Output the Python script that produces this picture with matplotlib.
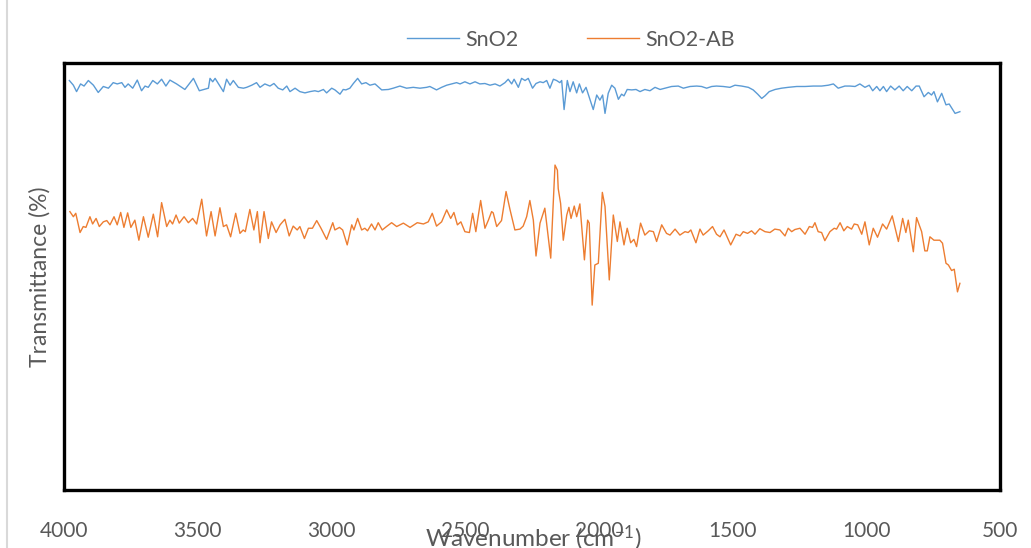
import matplotlib.pyplot as plt
from matplotlib.lines import Line2D

plt.rcParams['font.family'] = ['Lato', 'DejaVu Sans']
plt.rcParams['mathtext.default'] = 'regular'

# SnO2 spectrum (wavenumber, transmittance in arbitrary % units)
sno2_wn = [3980, 3965, 3953, 3938, 3925, 3909, 3890, 3872, 3853, 3834, 3816, 3801, 3784, 3772,
           3760, 3743, 3726, 3710, 3697, 3685, 3668, 3651, 3635, 3619, 3604, 3579, 3548, 3516,
           3494, 3477, 3460, 3454, 3444, 3435, 3419, 3404, 3392, 3379, 3367, 3348, 3329, 3317,
           3298, 3280, 3267, 3249, 3230, 3215, 3199, 3182, 3167, 3155, 3136, 3118, 3099, 3080,
           3062, 3049, 3030, 3018, 2999, 2987, 2968, 2956, 2946, 2931, 2918, 2902, 2887, 2871,
           2856, 2837, 2812, 2787, 2769, 2744, 2719, 2694, 2669, 2644, 2632, 2607, 2588, 2569,
           2550, 2532, 2519, 2501, 2482, 2463, 2445, 2426, 2407, 2388, 2370, 2351, 2339, 2326,
           2317, 2301, 2289, 2276, 2264, 2248, 2235, 2220, 2208, 2195, 2183, 2170, 2158, 2146,
           2139, 2130, 2118, 2108, 2096, 2083, 2073, 2061, 2048, 2036, 2021, 2008, 1996, 1986,
           1977, 1965, 1952, 1940, 1927, 1915, 1906, 1894, 1877, 1861, 1846, 1828, 1809, 1790,
           1771, 1753, 1728, 1703, 1684, 1659, 1634, 1616, 1597, 1578, 1560, 1535, 1510, 1491,
           1466, 1441, 1423, 1406, 1391, 1379, 1363, 1341, 1317, 1292, 1260, 1229, 1198, 1167,
           1142, 1123, 1105, 1080, 1061, 1042, 1024, 1005, 989, 976, 961, 949, 936, 924, 909,
           893, 877, 862, 847, 830, 814, 802, 784, 768, 756, 747, 734, 718, 702, 690, 668, 650]
sno2_t = [95.9, 94.8, 93.3, 95.1, 94.6, 95.9, 94.8, 93.1, 94.5, 94.1, 95.4, 95.1, 95.4, 94.3,
          95.1, 94.1, 96.0, 93.5, 94.6, 94.3, 95.9, 95.1, 96.2, 94.6, 96.0, 95.1, 93.8, 96.4,
          93.5, 93.8, 94.1, 96.4, 95.6, 96.4, 94.8, 93.3, 96.2, 94.8, 95.9, 94.3, 94.1, 94.3,
          94.8, 95.4, 94.3, 95.1, 94.6, 95.2, 94.1, 93.7, 94.6, 93.3, 94.1, 93.3, 93.0, 93.3,
          93.5, 93.3, 93.8, 93.0, 94.1, 93.7, 92.7, 93.8, 93.7, 94.1, 95.2, 96.4, 95.1, 95.4,
          94.8, 95.1, 93.7, 93.8, 94.1, 94.6, 94.1, 94.3, 94.1, 94.3, 94.5, 93.7, 94.3, 94.8,
          95.1, 95.4, 95.1, 95.6, 95.1, 95.6, 95.1, 95.2, 94.8, 95.1, 94.6, 95.4, 96.2, 95.1,
          96.2, 94.3, 96.4, 95.9, 96.4, 94.1, 95.2, 95.6, 95.4, 95.9, 94.1, 96.2, 95.9, 95.4,
          95.9, 89.1, 95.9, 93.3, 95.6, 93.0, 95.1, 93.0, 94.3, 92.0, 89.1, 92.5, 91.3, 92.5,
          88.2, 92.9, 94.8, 94.1, 91.5, 92.7, 92.3, 93.8, 93.7, 93.8, 93.3, 93.8, 93.5, 94.3,
          93.8, 94.1, 94.5, 94.6, 94.1, 94.5, 94.6, 94.5, 94.1, 94.5, 94.6, 94.5, 94.3, 94.8,
          94.6, 94.3, 93.7, 92.7, 91.7, 92.3, 93.3, 93.8, 94.1, 94.3, 94.5, 94.5, 94.6, 94.6,
          94.8, 95.1, 94.1, 94.6, 94.6, 94.5, 95.1, 94.3, 94.8, 93.5, 94.5, 93.5, 94.5, 93.3, 94.6,
          93.7, 94.6, 93.5, 94.5, 93.5, 94.6, 94.6, 92.1, 93.1, 92.5, 93.3, 90.9, 92.9, 90.2, 90.4, 88.2, 88.6]

# SnO2-AB spectrum
sno2ab_wn = [3978, 3965, 3956, 3940, 3928, 3918, 3903, 3893, 3880, 3868, 3853, 3840, 3828, 3813,
             3801, 3788, 3776, 3762, 3750, 3735, 3720, 3703, 3685, 3666, 3650, 3635, 3616, 3604,
             3594, 3581, 3569, 3551, 3535, 3519, 3504, 3485, 3467, 3450, 3435, 3417, 3404, 3392,
             3377, 3358, 3342, 3330, 3322, 3305, 3290, 3277, 3267, 3252, 3236, 3224, 3207, 3192,
             3174, 3158, 3143, 3128, 3118, 3101, 3086, 3071, 3055, 3039, 3018, 2995, 2987, 2970,
             2958, 2941, 2924, 2916, 2902, 2887, 2875, 2865, 2850, 2837, 2825, 2810, 2794, 2775,
             2756, 2731, 2706, 2679, 2656, 2638, 2623, 2607, 2588, 2569, 2554, 2542, 2529, 2516,
             2501, 2484, 2472, 2460, 2442, 2426, 2413, 2401, 2395, 2382, 2364, 2347, 2332, 2314,
             2295, 2283, 2270, 2258, 2245, 2235, 2220, 2202, 2180, 2164, 2155, 2152, 2143, 2133,
             2120, 2112, 2104, 2092, 2083, 2071, 2054, 2042, 2036, 2025, 2015, 2002, 1987, 1977,
             1961, 1946, 1931, 1921, 1906, 1894, 1881, 1869, 1859, 1844, 1828, 1811, 1796, 1784,
             1765, 1747, 1734, 1715, 1697, 1678, 1666, 1656, 1637, 1622, 1610, 1591, 1575, 1560,
             1547, 1532, 1507, 1487, 1472, 1460, 1444, 1429, 1416, 1398, 1379, 1360, 1342, 1323,
             1304, 1292, 1279, 1267, 1248, 1229, 1213, 1201, 1192, 1180, 1167, 1155, 1136, 1120,
             1111, 1098, 1084, 1071, 1055, 1045, 1032, 1017, 1005, 989, 974, 958, 939, 924, 903,
             880, 864, 852, 843, 824, 812, 793, 781, 772, 762, 747, 725, 715, 702, 693, 681, 671,
             659, 650]
sno2ab_t = [65.2, 64.0, 64.8, 60.3, 61.7, 61.5, 64.0, 62.3, 63.6, 61.7, 62.8, 63.1, 62.1, 64.0,
            62.1, 65.0, 61.5, 64.9, 61.5, 63.2, 58.5, 64.0, 59.2, 64.6, 59.3, 67.3, 61.7, 63.2,
            62.3, 64.4, 62.5, 64.0, 62.6, 63.6, 62.3, 68.1, 59.5, 65.2, 59.5, 66.1, 61.7, 62.1,
            59.3, 64.8, 60.1, 60.9, 60.5, 65.7, 60.9, 65.2, 57.9, 65.2, 58.9, 62.8, 60.3, 62.1,
            63.4, 59.5, 61.8, 60.9, 61.7, 58.9, 61.3, 61.3, 63.1, 61.3, 58.7, 62.6, 60.9, 61.5,
            60.9, 57.4, 62.1, 60.9, 63.6, 60.9, 61.3, 60.7, 62.3, 60.9, 62.6, 60.9, 61.7, 62.6,
            61.7, 62.5, 61.5, 62.6, 62.3, 62.8, 64.8, 61.8, 62.8, 65.6, 63.6, 65.0, 62.1, 62.8,
            60.5, 60.3, 64.8, 60.5, 67.8, 61.3, 63.2, 65.2, 64.9, 61.7, 63.1, 69.9, 65.6, 60.9,
            61.1, 61.8, 64.0, 67.8, 63.2, 54.8, 62.5, 66.0, 54.3, 76.1, 74.9, 70.6, 67.1, 58.5,
            64.4, 66.2, 63.6, 66.5, 64.0, 67.0, 53.9, 63.2, 62.5, 43.3, 52.7, 53.1, 69.7, 66.4,
            49.2, 64.4, 58.2, 62.8, 57.4, 61.3, 57.9, 58.7, 57.0, 62.5, 59.7, 60.7, 60.5, 58.2,
            62.1, 60.1, 59.7, 61.1, 59.7, 60.5, 60.3, 60.9, 57.9, 61.1, 59.7, 60.7, 61.7, 59.9,
            59.3, 60.9, 57.4, 59.9, 59.5, 60.5, 60.1, 60.7, 59.9, 61.2, 60.5, 60.3, 61.1, 60.9,
            59.5, 61.3, 60.5, 61.0, 61.3, 59.9, 61.7, 61.5, 62.6, 60.5, 60.3, 58.4, 60.5, 61.3,
            61.1, 62.6, 60.7, 61.7, 61.1, 62.3, 62.1, 59.9, 62.8, 57.4, 61.3, 59.2, 62.3, 61.1, 64.2,
            58.2, 63.6, 60.3, 63.2, 55.8, 63.8, 60.5, 56.0, 56.0, 59.3, 58.5, 58.5, 57.8, 53.1, 52.7,
            51.4, 51.7, 46.4, 48.4]

xticks = [4000, 3500, 3000, 2500, 2000, 1500, 1000, 500]
text_color = "#595959"

fig = plt.figure(figsize=(10.31, 5.48), dpi=100)
ax = fig.add_axes([64 / 1031, 58 / 548, 936 / 1031, 427 / 548])

ax.plot(sno2_wn, sno2_t, color="#5B9BD5", lw=1.0, label="SnO2")
ax.plot(sno2ab_wn, sno2ab_t, color="#ED7D31", lw=1.0, label="SnO2-AB")

ax.set_xlim(4000, 500)
ax.set_ylim(0, 100)
ax.set_xticks(xticks)
ax.set_xticklabels([str(t) for t in xticks])
ax.set_yticks([])
ax.tick_params(axis="x", length=0, pad=22, labelsize=15, labelcolor=text_color)
for s in ax.spines.values():
	s.set_linewidth(2.4)
	s.set_color("black")

ax.set_ylabel("Transmittance (%)", fontsize=16.5, color=text_color, labelpad=10)
fig.text(533 / 1031, 10 / 548, "Wavenumber (cm$^{-1}$)", fontsize=17.5,
	color=text_color, ha="center", va="center")

fig.legend(loc="center", bbox_to_anchor=(571 / 1031, 1 - 40 / 548), ncol=2, frameon=False,
	fontsize=15.5, labelcolor=text_color, handlelength=2.4, columnspacing=3.2, handletextpad=0.3)

fig.add_artist(Line2D([7 / 1031, 7 / 1031], [0, 1], transform=fig.transFigure,
	color="#d9d9d9", lw=1.5))

fig.savefig("out.png", dpi=100)
